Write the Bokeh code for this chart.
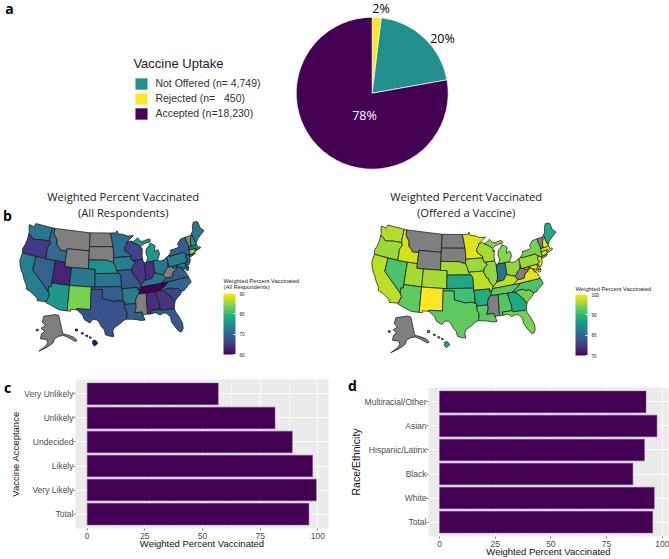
import math
from bokeh.plotting import figure
from bokeh.embed import file_html
from bokeh.resources import INLINE
from bokeh.layouts import column, row
from bokeh.models import (ColumnDataSource, Range1d, FactorRange, Legend, LegendItem, ColorBar,
                          LinearColorMapper, FixedTicker, Label)
from bokeh.palettes import Viridis256
from bokeh.core.properties import value

# ---------- data ----------
uptake_labels = ["Rejected (n=   450)", "Not Offered (n= 4,749)", "Accepted (n=18,230)"]
uptake_counts = [450, 4749, 18230]
uptake_colors = ["#FDE725", "#21908C", "#440154"]
uptake_pct = ["2%", "20%", "78%"]

map_states = ["WA","OR","CA","NV","ID","MT","WY","UT","AZ","CO","NM","ND","SD","NE","KS","OK","TX",
              "MN","IA","MO","AR","LA","WI","IL","MI","IN","OH","KY","TN","MS","AL","GA","FL","SC",
              "NC","VA","WV","PA","NY","ME","NH","VT","MA","RI","CT","NJ","DE","MD","DC","HI","AK"]
nan = float("nan")
pct_all = [71.5,65,73,69.5,70.5,nan,nan,63,76,72,84,nan,nan,75,71.5,69,67.5,
           71,73,68.5,73,69,66,65,76,64,72,72,60,nan,64,64.5,68.5,66,
           70,68.5,nan,73,69,72,77,nan,72,74,86,69,70,74,75,61,nan]
pct_offered = [96.5,95.5,97,91.5,98,nan,nan,96,92.5,96,100,nan,nan,96,88,91,92.5,
               98.5,95.5,97,88.5,92.5,96,95,94.5,81.5,95,97,92.5,nan,92,88,94,94,
               91.5,98.5,nan,95.5,94,88,99.5,nan,98,98.5,98.5,98.5,97,99,91,87.5,nan]

acceptance = ["Total", "Very Likely", "Likely", "Undecided", "Unlikely", "Very Unlikely"]
acceptance_pct = [96.1, 99.3, 97.7, 88.9, 81.4, 56.8]
race = ["Total", "White", "Black", "Hispanic/Latinx", "Asian", "Multiracial/Other"]
race_pct = [95.7, 96.4, 86.8, 92.0, 97.6, 92.7]

# state outlines (lon, lat)
shapes_ll = {
"WA":[(-124.7,48.4),(-123.1,48.2),(-122.8,49),(-117.03,49),(-117.04,46.4),(-116.9,46),(-119,45.93),(-119.6,45.92),(-121.2,45.65),(-122.3,45.55),(-122.8,45.9),(-123.4,46.2),(-124.05,46.27),(-124.1,46.9),(-124.7,47.9)],
"OR":[(-124.05,46.27),(-123.4,46.2),(-122.8,45.9),(-122.3,45.55),(-121.2,45.65),(-119.6,45.92),(-119,45.93),(-116.9,46),(-116.5,45.5),(-117.2,44.4),(-117.03,43.8),(-117.03,42),(-124.2,42),(-124.55,42.85),(-124.1,44),(-123.95,45.5)],
"CA":[(-124.2,42),(-120,42),(-120,39),(-114.63,35),(-114.15,34.27),(-114.5,33.4),(-114.72,32.72),(-117.12,32.53),(-117.3,33.1),(-118.4,33.75),(-119.2,34.15),(-120.6,34.55),(-120.65,35.15),(-121.9,36.6),(-122.5,37.6),(-123,38),(-123.75,39),(-124.35,40.3)],
"NV":[(-120,42),(-114.04,42),(-114.04,36.2),(-114.75,36.1),(-114.63,35),(-120,39)],
"ID":[(-117.03,49),(-116.05,49),(-116.05,48),(-115.7,47.5),(-114.7,46.7),(-114.4,45.55),(-113.45,44.95),(-113,44.45),(-111.5,44.55),(-111.05,44.48),(-111.05,42),(-117.03,42),(-117.03,43.8),(-117.2,44.4),(-116.5,45.5),(-116.9,46),(-117.04,46.4)],
"MT":[(-116.05,49),(-104.05,49),(-104.05,45),(-111.05,45),(-111.05,44.48),(-111.5,44.55),(-113,44.45),(-113.45,44.95),(-114.4,45.55),(-114.7,46.7),(-115.7,47.5),(-116.05,48)],
"WY":[(-111.05,45),(-104.05,45),(-104.05,41),(-111.05,41)],
"UT":[(-114.04,42),(-111.05,42),(-111.05,41),(-109.05,41),(-109.05,37),(-114.04,37)],
"AZ":[(-114.04,37),(-109.05,37),(-109.05,31.33),(-111.07,31.33),(-114.8,32.5),(-114.72,32.72),(-114.5,33.4),(-114.15,34.27),(-114.63,35),(-114.75,36.1),(-114.04,36.2)],
"CO":[(-109.05,41),(-102.05,41),(-102.05,37),(-109.05,37)],
"NM":[(-109.05,37),(-103,37),(-103.04,32),(-106.6,32),(-106.5,31.75),(-108.2,31.78),(-108.2,31.33),(-109.05,31.33)],
"ND":[(-104.05,49),(-97.23,49),(-96.85,47.5),(-96.56,45.94),(-104.05,45.94)],
"SD":[(-104.05,45.94),(-96.56,45.94),(-96.45,45.3),(-96.45,43.5),(-96.6,42.5),(-97.9,42.8),(-98.5,43),(-104.05,43)],
"NE":[(-104.05,43),(-98.5,43),(-97.9,42.8),(-96.6,42.5),(-96.1,41.7),(-95.85,40.7),(-95.3,40),(-102.05,40),(-102.05,41),(-104.05,41)],
"KS":[(-102.05,40),(-95.3,40),(-94.9,39.8),(-94.6,39.1),(-94.62,37),(-102.05,37)],
"OK":[(-103,37),(-94.62,37),(-94.43,35.4),(-94.48,33.64),(-95.5,33.9),(-97.2,33.8),(-98.1,34.1),(-99.2,34.3),(-100,34.56),(-100,36.5),(-103,36.5)],
"TX":[(-103.04,36.5),(-100,36.5),(-100,34.56),(-99.2,34.3),(-98.1,34.1),(-97.2,33.8),(-95.5,33.9),(-94.48,33.64),(-94.04,33.55),(-94.04,32),(-93.55,31.2),(-93.85,29.7),(-94.7,29.4),(-95.6,28.7),(-97,27.9),(-97.4,27.2),(-97.15,25.96),(-98.2,26.05),(-99.2,26.4),(-99.5,27.5),(-100.3,28.3),(-100.8,29.25),(-101.5,29.77),(-102.4,29.77),(-103.1,28.98),(-104.5,29.65),(-105,30.65),(-106.5,31.75),(-106.6,32),(-103.04,32)],
"MN":[(-97.23,49),(-95.15,49),(-95.15,49.38),(-94.8,49.3),(-94.6,48.7),(-93,48.55),(-91.5,48.05),(-89.6,48),(-92,46.75),(-92.3,46.1),(-92.9,45.6),(-92.75,44.75),(-91.25,43.85),(-91.22,43.5),(-96.45,43.5),(-96.45,45.3),(-96.56,45.94),(-96.85,47.5)],
"IA":[(-96.45,43.5),(-91.22,43.5),(-91.1,42.7),(-90.15,41.9),(-91.1,41.2),(-91.42,40.38),(-91.7,40.6),(-95.77,40.58),(-96.1,41.7),(-96.6,42.5)],
"MO":[(-95.77,40.58),(-91.7,40.6),(-91.42,40.38),(-90.7,39),(-90.15,38.8),(-90.2,38.4),(-89.5,37.3),(-89.15,37),(-89.4,36.5),(-89.7,36),(-90.37,36),(-90.2,36.5),(-94.62,36.5),(-94.62,37),(-94.6,39.1),(-94.9,39.8),(-95.3,40)],
"AR":[(-94.62,36.5),(-90.2,36.5),(-90.37,36),(-89.7,36),(-90.1,35),(-90.6,34.7),(-91.1,33.8),(-91.17,33),(-94.04,33),(-94.04,33.55),(-94.48,33.64),(-94.43,35.4)],
"LA":[(-94.04,33),(-91.17,33),(-91.1,32.2),(-91.6,31),(-89.75,31),(-89.6,30.2),(-89.4,29.8),(-89.2,29.1),(-90.2,29.1),(-91.3,29.4),(-92.3,29.55),(-93.85,29.7),(-93.55,31.2),(-94.04,32)],
"WI":[(-92.3,46.1),(-92,46.75),(-90.8,46.9),(-89.1,46.15),(-87.8,45.35),(-87.6,45.1),(-88,44.55),(-87.4,44.9),(-87.55,44.2),(-87.8,43.3),(-87.8,42.5),(-90.64,42.5),(-91.1,42.7),(-91.22,43.5),(-91.25,43.85),(-92.75,44.75),(-92.9,45.6)],
"IL":[(-90.64,42.5),(-87.8,42.5),(-87.5,41.7),(-87.53,39.35),(-87.6,38.7),(-88.05,37.8),(-88.45,37.4),(-89.15,37),(-89.5,37.3),(-90.2,38.4),(-90.15,38.8),(-90.7,39),(-91.42,40.38),(-91.1,41.2),(-90.15,41.9)],
"IN":[(-87.5,41.7),(-87.2,41.75),(-86.8,41.76),(-84.8,41.76),(-84.82,39.1),(-85.45,38.7),(-86,38),(-86.8,37.95),(-88.05,37.8),(-87.6,38.7),(-87.53,39.35)],
"MI":[(-86.8,41.76),(-84.8,41.76),(-83.45,41.73),(-83.1,42.2),(-82.45,43),(-82.6,43.9),(-83,44.05),(-83.9,43.7),(-83.3,44.9),(-83.4,45.1),(-84.7,45.75),(-85.5,45),(-86.2,44.7),(-86.5,43.7),(-86.2,42.7)],
"MI2":[(-90.4,46.55),(-89.1,46.15),(-87.8,45.35),(-87,45.75),(-85.5,46.05),(-84.7,46),(-84.4,46.5),(-85,46.75),(-86.5,46.5),(-87.5,46.5),(-88.4,47.4),(-89.5,46.85)],
"OH":[(-84.8,41.76),(-83.45,41.73),(-82.7,41.45),(-81.7,41.5),(-80.52,41.98),(-80.52,40.64),(-80.85,39.7),(-81.75,39.2),(-82.2,38.6),(-82.6,38.42),(-83.65,38.63),(-84.82,39.1)],
"KY":[(-89.4,36.5),(-83.68,36.6),(-82,37.5),(-82.6,38.17),(-82.6,38.42),(-83.65,38.63),(-84.82,39.1),(-85.45,38.7),(-86,38),(-86.8,37.95),(-88.05,37.8),(-88.45,37.4),(-89.15,37)],
"TN":[(-90.1,35),(-88.2,35),(-84.32,35),(-82.4,36),(-81.68,36.59),(-83.68,36.6),(-89.4,36.5),(-89.7,36)],
"MS":[(-91.17,33),(-91.1,33.8),(-90.6,34.7),(-90.1,35),(-88.2,35),(-88.1,34.9),(-88.4,30.35),(-89.35,30.3),(-89.6,30.2),(-89.75,31),(-91.6,31),(-91.1,32.2)],
"AL":[(-88.2,35),(-85.6,35),(-85.18,32.87),(-85,32.3),(-85,31),(-87.6,31),(-87.5,30.3),(-88,30.25),(-88.4,30.35),(-88.1,34.9)],
"GA":[(-85.6,35),(-83.1,35),(-83.35,34.7),(-82.9,34.5),(-81.5,33),(-81.1,32.1),(-80.9,32),(-81.4,30.7),(-82.05,30.36),(-82.2,30.57),(-84.86,30.7),(-85,31),(-85,32.3),(-85.18,32.87)],
"FL":[(-87.6,31),(-85,31),(-84.86,30.7),(-82.2,30.57),(-82.05,30.36),(-81.4,30.7),(-81.3,29.9),(-80.55,28.4),(-80.05,26.9),(-80.15,25.75),(-80.6,25.15),(-81.15,25.15),(-81.8,26.1),(-82.7,27.7),(-82.75,28.9),(-83.7,29.9),(-84.4,30),(-85.3,29.7),(-86.3,30.4),(-87.5,30.3)],
"SC":[(-83.35,34.7),(-83.1,35),(-82.4,35.2),(-81,35.15),(-80.8,34.82),(-79.67,34.8),(-78.55,33.85),(-79.2,33.2),(-80.4,32.5),(-80.9,32),(-81.1,32.1),(-81.5,33),(-82.9,34.5)],
"NC":[(-84.32,35),(-83.1,35),(-82.4,35.2),(-81,35.15),(-80.8,34.82),(-79.67,34.8),(-78.55,33.85),(-77.9,33.9),(-76.6,34.7),(-75.5,35.25),(-75.85,36.55),(-81.68,36.59),(-82.4,36)],
"VA":[(-83.68,36.6),(-75.85,36.55),(-76,37),(-76.35,37.9),(-77,38.3),(-77.05,38.85),(-77.5,39.1),(-77.75,39.3),(-78.35,39.4),(-78.9,38.75),(-79.7,38.5),(-80.3,37.5),(-82,37.5)],
"WV":[(-82.6,38.17),(-82,37.5),(-80.3,37.5),(-79.7,38.5),(-78.9,38.75),(-78.35,39.4),(-77.75,39.3),(-78.2,39.7),(-79.48,39.2),(-79.48,39.72),(-80.52,39.72),(-80.52,40.64),(-80.85,39.7),(-81.75,39.2),(-82.2,38.6),(-82.6,38.42)],
"MD":[(-79.48,39.72),(-75.79,39.72),(-75.7,38.46),(-75.05,38.45),(-75.4,37.9),(-75.9,37.95),(-76.3,39),(-76.45,38.3),(-77,38.3),(-77.05,38.85),(-77.5,39.1),(-77.75,39.3),(-78.2,39.7),(-78.35,39.4),(-79.48,39.2)],
"DE":[(-75.79,39.72),(-75.4,39.8),(-75.55,39.5),(-75.05,38.45),(-75.7,38.46)],
"DC":[(-77.2,38.93),(-77.04,39.05),(-76.85,38.89),(-77.04,38.72)],
"PA":[(-80.52,41.98),(-79.76,42.27),(-79.76,42),(-75.35,42),(-74.7,41.35),(-75.1,40.9),(-75.15,40.6),(-74.75,40.2),(-75.4,39.8),(-75.79,39.72),(-80.52,39.72)],
"NY":[(-79.76,42.27),(-78.9,42.9),(-79,43.27),(-76.8,43.3),(-76.2,43.55),(-76.3,44.15),(-75,44.98),(-73.35,45.01),(-73.45,44),(-73.25,43.55),(-73.27,42.75),(-73.5,42.05),(-73.5,41.3),(-73.7,41),(-72,41.1),(-72.2,40.85),(-73.9,40.55),(-73.9,41),(-74.7,41.35),(-75.35,42),(-79.76,42)],
"NJ":[(-74.7,41.35),(-73.9,41),(-74,40.45),(-74.1,39.75),(-74.9,38.95),(-75.55,39.5),(-75.4,39.8),(-74.75,40.2),(-75.15,40.6),(-75.1,40.9)],
"CT":[(-73.5,42.05),(-71.8,42.02),(-71.8,41.32),(-73.7,41),(-73.5,41.3)],
"RI":[(-71.8,42.02),(-71.38,42.02),(-71.15,41.5),(-71.8,41.32)],
"MA":[(-73.5,42.05),(-73.27,42.75),(-71.3,42.7),(-70.8,42.87),(-70.7,42.3),(-70.65,41.95),(-70.05,42.05),(-69.95,41.7),(-70.65,41.55),(-71.15,41.5),(-71.38,42.02),(-71.8,42.02)],
"VT":[(-73.35,45.01),(-71.5,45.01),(-71.6,44.5),(-72.05,44.1),(-72.4,43.3),(-72.45,42.73),(-73.27,42.75),(-73.25,43.55),(-73.45,44)],
"NH":[(-71.5,45.01),(-71.08,45.3),(-70.98,43.4),(-70.7,43.07),(-70.8,42.87),(-71.3,42.7),(-72.45,42.73),(-72.4,43.3),(-72.05,44.1),(-71.6,44.5)],
"ME":[(-71.08,45.3),(-70.4,45.8),(-70,46.7),(-69.2,47.45),(-68.3,47.35),(-67.8,47.07),(-67.8,45.7),(-67,44.85),(-68.5,44.3),(-69.8,43.75),(-70.7,43.07),(-70.98,43.4)],
}
# inset states, outlines in map units
shapes_inset = {
"AK":[(43.3,315.7),(55,314),(58.3,315),(62.3,333.3),(66.7,334.3),(73.3,336.7),(76.7,340),(75,341),(68.3,337.3),(63.3,335),(58.3,335.7),(54,338.3),(52.7,342.3),(46.7,346.7),(38.3,350.7),(45,345.7),(47.3,342.3),(46,339),(40,338.3),(41,333.3),(44,331),(40.7,327.7),(45,325),(41.7,321.7)],
"AK2":[(36,328.5),(38,329),(37.5,330.5),(35.5,330)],
"HI":[(92.3,340),(95,339.7),(97.3,342.7),(94,345.7),(92,343.3)],
"HI2":[(75,328.5),(77,328.5),(77,330.5),(75,330.5)],
"HI3":[(81,332),(83,332.3),(82.5,333.8),(81,333.5)],
"HI4":[(85.3,334.5),(87.5,335),(87,336.3),(85.3,335.8)],
"HI5":[(89,336),(91,337),(90.5,338),(89,337.3)],
}

# ---------- helpers ----------
FONT = "Open Sans"
AXFONT = "Liberation Sans"
MAP_S, MAP_X0, MAP_Y0 = 258.5, 101.7, 250.7

def project(lon, lat):
    p0, dl, p = math.radians(45), math.radians(lon + 100), math.radians(lat)
    k = math.sqrt(2 / (1 + math.sin(p0) * math.sin(p) + math.cos(p0) * math.cos(p) * math.cos(dl)))
    x = k * math.cos(p) * math.sin(dl)
    y = k * (math.cos(p0) * math.sin(p) - math.sin(p0) * math.cos(p) * math.cos(dl))
    return MAP_X0 + MAP_S * x, MAP_Y0 - MAP_S * y

def map_source():
    xs, ys, keys = [], [], []
    for k, pts in shapes_ll.items():
        pr = [project(*q) for q in pts]
        xs.append([q[0] for q in pr]); ys.append([q[1] for q in pr]); keys.append(k[:2])
    for k, pts in shapes_inset.items():
        xs.append([q[0] for q in pts]); ys.append([q[1] for q in pts]); keys.append(k[:2])
    return xs, ys, keys

def letter(p, txt, x, y, side="center"):
    lab = Label(x=x, y=y, x_units="screen", y_units="screen", text=txt, text_font=FONT,
                text_font_style="bold", text_font_size="14px", text_color="black",
                text_baseline="middle", text_align="center")
    if side == "center":
        p.add_layout(lab)
    else:
        p.add_layout(lab, side)

# ---------- pie ----------
p_a = figure(width=669, height=175, x_range=Range1d(0, 669), y_range=Range1d(0, 175),
             output_backend="svg", toolbar_location=None, min_border=0, outline_line_color=None)
p_a.axis.visible = False
p_a.grid.visible = False
total = sum(uptake_counts)
ends, acc = [], 0.0
for c in uptake_counts:
    acc += c / total
    ends.append(acc)
starts = [0.0] + ends[:-1]
src = ColumnDataSource(dict(
    x=[371.7] * 3, y=[82.3] * 3,
    start=[math.pi / 2 - 2 * math.pi * e for e in ends],
    end=[math.pi / 2 - 2 * math.pi * s for s in starts],
    color=uptake_colors, label=uptake_labels))
w = p_a.wedge(x="x", y="y", radius=76, start_angle="start", end_angle="end", fill_color="color",
              line_color="white", line_width=0.7, source=src)
p_a.text(x=[380.6, 442, 364], y=[167, 137, 60], text=uptake_pct,
         text_color=["black", "black", "white"], text_font=value(FONT), text_font_size="12.5px",
         text_align="center", text_baseline="middle")
legend = Legend(items=[LegendItem(label=uptake_labels[1], renderers=[w], index=1),
                       LegendItem(label=uptake_labels[0], renderers=[w], index=0),
                       LegendItem(label=uptake_labels[2], renderers=[w], index=2)],
                location=(133.4, 54.5), title="Vaccine Uptake", title_text_font=AXFONT,
                title_text_font_size="13px", title_text_font_style="normal", title_text_color="#222222",
                title_standoff=5, label_text_font=AXFONT, label_text_font_size="10.5px",
                label_text_color="#333333", glyph_width=16, glyph_height=15, spacing=0,
                label_standoff=6, padding=0, margin=0, border_line_color=None,
                background_fill_alpha=0, label_height=13)
p_a.add_layout(legend)
letter(p_a, "a", 9, 167)

# ---------- maps ----------
def make_map(values, low, high, ticks, title_x, title_lines, cb_title, cb_title_x, cb_title_y, xoff, yoff, cbx, cby):
    w_ = 335 if xoff == 0 else 334
    p = figure(width=w_, height=195,
               x_range=Range1d(-xoff, w_ - xoff),
               y_range=Range1d(370 - yoff, 175 - yoff),
               output_backend="svg", toolbar_location=None, min_border=0, outline_line_color=None)
    p.axis.visible = False
    p.grid.visible = False
    lookup = dict(zip(map_states, values))
    xs, ys, keys = map_source()
    mapper = LinearColorMapper(palette=Viridis256, low=low, high=high, nan_color="#7f7f7f")
    s = ColumnDataSource(dict(xs=xs, ys=ys, state=keys, v=[lookup[k] for k in keys]))
    p.patches("xs", "ys", source=s, fill_color={"field": "v", "transform": mapper},
              line_color="#111111", line_width=0.7)
    p.text(x=[title_x] * 2, y=[196 - yoff, 212 - yoff], text=title_lines,
           text_font=value(FONT), text_font_size="11.2px", text_color="#222222",
           text_align="center", text_baseline="middle")
    p.text(x=[cb_title_x] * len(cb_title), y=[cb_title_y + i * 6.5 for i in range(len(cb_title))], text=cb_title,
           text_font=value(AXFONT), text_font_size="5.8px", text_color="#222222",
           text_align="left", text_baseline="middle")
    cb = ColorBar(color_mapper=mapper, ticker=FixedTicker(ticks=ticks), width=12, height=61,
                  location=(cbx, cby), padding=0, margin=0, major_label_text_font=AXFONT,
                  major_label_text_font_size="4.5px",
                  major_label_text_color="#222222", major_tick_line_color="white", major_tick_in=2,
                  major_tick_out=0, minor_tick_line_color=None, label_standoff=4,
                  bar_line_color=None, border_line_color=None, background_fill_alpha=0)
    p.add_layout(cb)
    return p

m1 = make_map(pct_all, 60, 90, [60, 70, 80, 90], 122.7, ["Weighted Percent Vaccinated", "(All Respondents)"],
              ["Weighted Percent Vaccinated", "(All Respondents)"], 223, 280, 0, 0, 223, 16)
m2 = make_map(pct_offered, 70, 100, [70, 80, 90, 100], 113.7, ["Weighted Percent Vaccinated", "(Offered a Vaccine)"],
              ["Weighted Percent Vaccinated"], 223, 286.5, 17, 1.5, 240, 15)
letter(m1, "b", 7, 175 - 20)

# ---------- bars ----------
def make_bar(cats, vals, ylabel, ylabel_size, w_, h_, bl, br, bt, bb, xlo, xhi):
    p = figure(width=w_, height=h_, y_range=FactorRange(*cats, range_padding=0.1, range_padding_units="absolute"),
               x_range=Range1d(xlo, xhi), output_backend="svg", toolbar_location=None, frame_align=False,
               min_border_left=bl, min_border_right=br, min_border_top=bt, min_border_bottom=bb,
               background_fill_color="#EBEBEB", outline_line_color=None, border_fill_color="white")
    p.hbar(y=cats, right=vals, left=0, height=0.9, fill_color="#440154", line_color="#7a4d8a", line_width=0.5)
    p.xaxis.ticker = FixedTicker(ticks=[0, 25, 50, 75, 100], minor_ticks=[12.5, 37.5, 62.5, 87.5])
    p.xgrid.grid_line_color = "white"
    p.xgrid.grid_line_width = 0.8
    p.xgrid.minor_grid_line_color = "white"
    p.xgrid.minor_grid_line_width = 0.4
    p.ygrid.grid_line_color = "white"
    p.ygrid.grid_line_width = 0.8
    p.axis.axis_line_color = None
    p.axis.major_tick_line_color = "#333333"
    p.axis.major_tick_line_width = 0.6
    p.axis.major_tick_in = 0
    p.axis.major_tick_out = 2
    p.axis.minor_tick_line_color = None
    p.axis.major_label_text_font = AXFONT
    p.axis.major_label_text_font_size = "8.5px"
    p.axis.major_label_text_color = "#4D4D4D"
    p.xaxis.major_label_standoff = 0
    p.yaxis.major_label_standoff = 0
    p.axis.axis_label_text_font = AXFONT
    p.axis.axis_label_text_font_size = "9.5px"
    p.yaxis.axis_label_text_font_size = ylabel_size
    p.axis.axis_label_text_font_style = "normal"
    p.axis.axis_label_text_color = "#111111"
    p.yaxis.axis_label_standoff = 0
    p.xaxis.axis_label_standoff = -4
    p.xaxis.axis_label = "Weighted Percent Vaccinated"
    p.yaxis.axis_label = ylabel
    return p

b1 = make_bar(acceptance, acceptance_pct, "Vaccine Acceptance", "9.5px", 335, 189, 75, 7, 9, 31, -5.07, 104.6)
b2 = make_bar(race, race_pct, "Race/Ethnicity", "10.5px", 334, 189, 93, 1, 17, 23, -4.94, 102.8)
letter(b1, "c", 7, 141, "left")
letter(b2, "d", 15, 151, "left")

layout = column(p_a, row(m1, m2, spacing=0), row(b1, b2, spacing=0), spacing=0)
open("out.html", "w").write(file_html(layout, INLINE))
